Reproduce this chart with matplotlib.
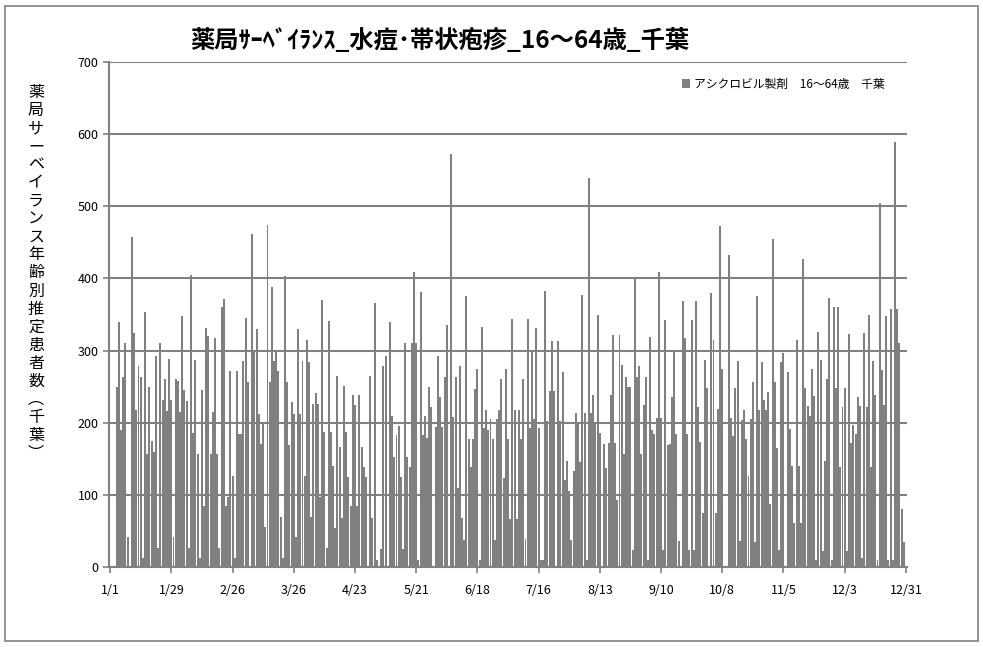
import matplotlib
matplotlib.use("Agg")
import matplotlib.pyplot as plt
from matplotlib.patches import Rectangle

plt.rcParams['font.family'] = ['Noto Sans CJK JP', 'DejaVu Sans']

# daily estimated patients, 1/1 .. 12/31 (365 days)
values = [
    0, 0, 0, 249, 339, 190, 263, 310, 41, 0,
    457, 324, 218, 278, 263, 12, 354, 157, 249, 174,
    160, 293, 27, 310, 231, 261, 216, 289, 231, 41,
    261, 258, 215, 348, 245, 230, 26, 405, 186, 287,
    156, 12, 245, 84, 331, 320, 157, 215, 317, 157,
    26, 361, 372, 84, 97, 271, 126, 12, 271, 184,
    184, 285, 345, 257, 0, 461, 300, 330, 212, 171,
    199, 55, 474, 257, 388, 286, 300, 271, 70, 12,
    403, 257, 169, 229, 212, 41, 330, 212, 286, 126,
    314, 284, 69, 226, 241, 226, 97, 370, 187, 26,
    341, 187, 140, 54, 265, 166, 68, 251, 187, 125,
    84, 238, 224, 84, 238, 166, 139, 125, 0, 265,
    68, 366, 10, 0, 25, 279, 293, 0, 339, 209,
    153, 183, 196, 125, 25, 310, 153, 139, 310, 409,
    310, 10, 381, 183, 209, 179, 249, 222, 0, 194,
    292, 235, 194, 263, 335, 0, 573, 208, 263, 109,
    279, 68, 38, 376, 177, 139, 177, 247, 274, 10,
    332, 192, 218, 190, 205, 177, 38, 205, 217, 261,
    123, 274, 177, 66, 344, 217, 66, 218, 178, 261,
    39, 344, 192, 301, 205, 331, 192, 10, 10, 382,
    202, 244, 313, 244, 0, 313, 202, 270, 120, 147,
    105, 38, 133, 213, 200, 146, 377, 214, 10, 539,
    214, 239, 201, 350, 186, 0, 171, 137, 172, 239,
    322, 172, 93, 322, 280, 157, 264, 250, 250, 24,
    400, 264, 278, 157, 224, 264, 10, 319, 190, 184,
    206, 409, 206, 23, 343, 169, 171, 235, 301, 184,
    36, 0, 369, 317, 184, 23, 343, 23, 369, 222,
    173, 75, 287, 248, 0, 380, 314, 75, 219, 472,
    274, 0, 0, 432, 206, 181, 248, 286, 36, 204,
    218, 178, 126, 205, 257, 35, 376, 218, 284, 232,
    218, 243, 88, 454, 257, 165, 23, 284, 296, 0,
    270, 191, 140, 61, 314, 140, 61, 427, 248, 223,
    210, 274, 237, 10, 326, 287, 22, 147, 261, 373,
    10, 360, 248, 360, 138, 222, 248, 22, 323, 172,
    197, 185, 235, 223, 12, 324, 222, 349, 139, 286,
    238, 10, 504, 273, 225, 348, 10, 358, 10, 589,
    358, 310, 80, 35, 0,
]

tick_pos = list(range(0, 365, 28))
tick_labels = ['1/1', '1/29', '2/26', '3/26', '4/23', '5/21', '6/18',
               '7/16', '8/13', '9/10', '10/8', '11/5', '12/3', '12/31']

title = '薬局ｻｰﾍﾞｲﾗﾝｽ_水痘･帯状疱疹_16～64歳_千葉'
ylabel = '薬局サーベイランス年齢別推定患者数︵千葉︶'
legend_label = 'アシクロビル製剤　16～64歳　千葉'

gray = '#808080'

fig = plt.figure(figsize=(9.83, 6.47), dpi=100)
fig.patches.append(Rectangle((5 / 983, 6 / 647), 973 / 983, 635 / 647,
                             transform=fig.transFigure, fill=False,
                             edgecolor=gray, lw=1.2))

ax = fig.add_axes([109 / 983, 1 - 567 / 647, 798 / 983, 505 / 647])
ax.bar(range(len(values)), values, width=0.9, color=gray, label=legend_label,
       antialiased=False, zorder=3)

ax.set_xlim(-0.5, len(values) - 0.5)
ax.set_ylim(0, 700)
ax.set_yticks(range(0, 701, 100))
ax.yaxis.grid(True, color=gray, lw=1.5, zorder=0)
ax.set_axisbelow(True)
ax.set_xticks(tick_pos)
ax.set_xticklabels(tick_labels)
ax.tick_params(axis='both', labelsize=9, color=gray, length=4, width=1.2)
ax.tick_params(axis='x', pad=8)

for s in ['top', 'right']:
    ax.spines[s].set_visible(False)
for s in ['left', 'bottom']:
    ax.spines[s].set_color(gray)
    ax.spines[s].set_linewidth(1.5)

fig.text(440 / 983, 1 - 40 / 647, title, ha='center', va='center',
         fontsize=17.5, fontweight='bold')
fig.text(36 / 983, 1 - 273 / 647, '\n'.join(ylabel), ha='center', va='center',
         fontsize=11.5, linespacing=1.08)

ax.legend(loc='upper right', frameon=False, fontsize=8.5, handlelength=0.7,
          handleheight=0.7, handletextpad=0.3, bbox_to_anchor=(0.985, 0.99))

fig.savefig('out.png', dpi=100)
